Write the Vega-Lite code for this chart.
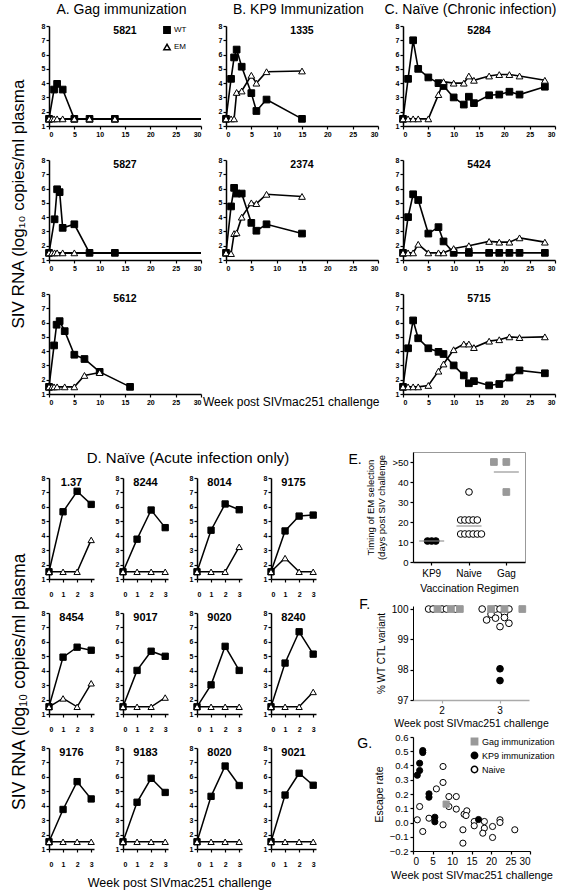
{
"$schema":"https://vega.github.io/schema/vega-lite/v6.json",
"padding":{"left":10,"top":3,"right":0,"bottom":0},
"config":{
 "font":"Liberation Sans",
 "view":{"stroke":null},
 "axis":{"grid":false,"domainColor":"black","domainWidth":1.5,"tickColor":"black","tickWidth":1.2,"tickSize":3,"labelFontSize":7,"labelFontWeight":"bold","labelColor":"black","labelPadding":1,"titleFontWeight":"normal","titleColor":"black"},
 "title":{"fontSize":10.5,"fontWeight":"bold","color":"black","anchor":"middle","offset":-14},
 "legend":{"labelColor":"black","padding":0}
},
"datasets":{
 "top":[
  {"m":"5821","s":"WT","w":0,"v":1.5},{"m":"5821","s":"WT","w":1,"v":3.55},{"m":"5821","s":"WT","w":1.6,"v":3.95},{"m":"5821","s":"WT","w":2.7,"v":3.55},{"m":"5821","s":"WT","w":5,"v":1.5},{"m":"5821","s":"WT","w":8,"v":1.5},{"m":"5821","s":"WT","w":13,"v":1.5},
  {"m":"5821","s":"EM","w":0,"v":1.5},{"m":"5821","s":"EM","w":0.6,"v":1.5},{"m":"5821","s":"EM","w":1,"v":1.5},{"m":"5821","s":"EM","w":1.6,"v":1.5},{"m":"5821","s":"EM","w":2.7,"v":1.5},{"m":"5821","s":"EM","w":5,"v":1.5},{"m":"5821","s":"EM","w":8,"v":1.5},{"m":"5821","s":"EM","w":13,"v":1.5},
  {"m":"5827","s":"WT","w":0,"v":1.5},{"m":"5827","s":"WT","w":1.1,"v":3.85},{"m":"5827","s":"WT","w":1.6,"v":5.95},{"m":"5827","s":"WT","w":2.1,"v":5.75},{"m":"5827","s":"WT","w":2.7,"v":3.25},{"m":"5827","s":"WT","w":5,"v":3.5},{"m":"5827","s":"WT","w":8,"v":1.5},{"m":"5827","s":"WT","w":13,"v":1.5},
  {"m":"5827","s":"EM","w":0,"v":1.5},{"m":"5827","s":"EM","w":0.6,"v":1.5},{"m":"5827","s":"EM","w":1.1,"v":1.5},{"m":"5827","s":"EM","w":1.6,"v":1.5},{"m":"5827","s":"EM","w":2.7,"v":1.5},{"m":"5827","s":"EM","w":5,"v":1.5},
  {"m":"5612","s":"WT","w":0,"v":1.5},{"m":"5612","s":"WT","w":1,"v":4.4},{"m":"5612","s":"WT","w":1.5,"v":5.85},{"m":"5612","s":"WT","w":2.1,"v":6.1},{"m":"5612","s":"WT","w":3.1,"v":5.4},{"m":"5612","s":"WT","w":5,"v":3.75},{"m":"5612","s":"WT","w":7,"v":3.45},{"m":"5612","s":"WT","w":10,"v":2.55},{"m":"5612","s":"WT","w":16,"v":1.5},
  {"m":"5612","s":"EM","w":0,"v":1.5},{"m":"5612","s":"EM","w":0.6,"v":1.5},{"m":"5612","s":"EM","w":1,"v":1.5},{"m":"5612","s":"EM","w":1.6,"v":1.5},{"m":"5612","s":"EM","w":3.1,"v":1.5},{"m":"5612","s":"EM","w":5,"v":1.5},{"m":"5612","s":"EM","w":7,"v":2.3},{"m":"5612","s":"EM","w":10,"v":2.5},
  {"m":"1335","s":"WT","w":0,"v":1.5},{"m":"1335","s":"WT","w":1,"v":4.3},{"m":"1335","s":"WT","w":1.6,"v":5.8},{"m":"1335","s":"WT","w":2.1,"v":6.35},{"m":"1335","s":"WT","w":3.1,"v":5.15},{"m":"1335","s":"WT","w":5,"v":3.3},{"m":"1335","s":"WT","w":6,"v":2.05},{"m":"1335","s":"WT","w":8,"v":2.85},{"m":"1335","s":"WT","w":15,"v":1.5},
  {"m":"1335","s":"EM","w":0,"v":1.5},{"m":"1335","s":"EM","w":1,"v":1.5},{"m":"1335","s":"EM","w":1.6,"v":1.5},{"m":"1335","s":"EM","w":2.1,"v":3.35},{"m":"1335","s":"EM","w":3.1,"v":3.45},{"m":"1335","s":"EM","w":5,"v":4.55},{"m":"1335","s":"EM","w":6,"v":4.0},{"m":"1335","s":"EM","w":8,"v":4.8},{"m":"1335","s":"EM","w":15,"v":4.85},
  {"m":"2374","s":"WT","w":0,"v":1.5},{"m":"2374","s":"WT","w":1,"v":4.75},{"m":"2374","s":"WT","w":1.6,"v":6.05},{"m":"2374","s":"WT","w":2.1,"v":5.65},{"m":"2374","s":"WT","w":3.1,"v":5.65},{"m":"2374","s":"WT","w":5,"v":3.6},{"m":"2374","s":"WT","w":6,"v":3.05},{"m":"2374","s":"WT","w":8,"v":3.5},{"m":"2374","s":"WT","w":15,"v":2.85},
  {"m":"2374","s":"EM","w":0,"v":1.5},{"m":"2374","s":"EM","w":1,"v":1.45},{"m":"2374","s":"EM","w":1.6,"v":2.85},{"m":"2374","s":"EM","w":2.1,"v":2.9},{"m":"2374","s":"EM","w":3.1,"v":4.0},{"m":"2374","s":"EM","w":5,"v":5.0},{"m":"2374","s":"EM","w":6,"v":4.95},{"m":"2374","s":"EM","w":8,"v":5.6},{"m":"2374","s":"EM","w":15,"v":5.45},
  {"m":"5284","s":"WT","w":0,"v":1.5},{"m":"5284","s":"WT","w":1,"v":4.3},{"m":"5284","s":"WT","w":2,"v":7.0},{"m":"5284","s":"WT","w":3,"v":5.0},{"m":"5284","s":"WT","w":5,"v":4.4},{"m":"5284","s":"WT","w":7,"v":4.0},{"m":"5284","s":"WT","w":8,"v":3.8},{"m":"5284","s":"WT","w":10,"v":3.0},{"m":"5284","s":"WT","w":12,"v":2.5},{"m":"5284","s":"WT","w":13,"v":3.05},{"m":"5284","s":"WT","w":14,"v":2.6},{"m":"5284","s":"WT","w":17,"v":3.15},{"m":"5284","s":"WT","w":19,"v":3.2},{"m":"5284","s":"WT","w":21,"v":3.4},{"m":"5284","s":"WT","w":23,"v":3.2},{"m":"5284","s":"WT","w":28,"v":3.75},
  {"m":"5284","s":"EM","w":0,"v":1.5},{"m":"5284","s":"EM","w":1,"v":1.5},{"m":"5284","s":"EM","w":2,"v":1.5},{"m":"5284","s":"EM","w":3,"v":1.5},{"m":"5284","s":"EM","w":5,"v":1.5},{"m":"5284","s":"EM","w":7,"v":3.2},{"m":"5284","s":"EM","w":8,"v":4.1},{"m":"5284","s":"EM","w":10,"v":4.0},{"m":"5284","s":"EM","w":12,"v":4.0},{"m":"5284","s":"EM","w":13,"v":4.5},{"m":"5284","s":"EM","w":14,"v":4.2},{"m":"5284","s":"EM","w":17,"v":4.5},{"m":"5284","s":"EM","w":19,"v":4.6},{"m":"5284","s":"EM","w":21,"v":4.6},{"m":"5284","s":"EM","w":23,"v":4.5},{"m":"5284","s":"EM","w":28,"v":4.2},
  {"m":"5424","s":"WT","w":0,"v":1.5},{"m":"5424","s":"WT","w":1,"v":4.0},{"m":"5424","s":"WT","w":2,"v":5.6},{"m":"5424","s":"WT","w":3,"v":5.2},{"m":"5424","s":"WT","w":5,"v":2.85},{"m":"5424","s":"WT","w":7,"v":3.3},{"m":"5424","s":"WT","w":8,"v":2.3},{"m":"5424","s":"WT","w":10,"v":1.5},{"m":"5424","s":"WT","w":13,"v":1.5},{"m":"5424","s":"WT","w":17,"v":1.5},{"m":"5424","s":"WT","w":19,"v":1.5},{"m":"5424","s":"WT","w":21,"v":1.5},{"m":"5424","s":"WT","w":23,"v":1.5},{"m":"5424","s":"WT","w":28,"v":1.5},
  {"m":"5424","s":"EM","w":0,"v":1.5},{"m":"5424","s":"EM","w":1,"v":1.5},{"m":"5424","s":"EM","w":2,"v":1.5},{"m":"5424","s":"EM","w":3,"v":2.1},{"m":"5424","s":"EM","w":5,"v":1.5},{"m":"5424","s":"EM","w":7,"v":1.5},{"m":"5424","s":"EM","w":8,"v":1.5},{"m":"5424","s":"EM","w":10,"v":1.8},{"m":"5424","s":"EM","w":13,"v":2.0},{"m":"5424","s":"EM","w":17,"v":2.3},{"m":"5424","s":"EM","w":19,"v":2.25},{"m":"5424","s":"EM","w":21,"v":2.25},{"m":"5424","s":"EM","w":23,"v":2.55},{"m":"5424","s":"EM","w":28,"v":2.25},
  {"m":"5715","s":"WT","w":0,"v":1.5},{"m":"5715","s":"WT","w":1,"v":4.2},{"m":"5715","s":"WT","w":2,"v":6.15},{"m":"5715","s":"WT","w":3,"v":4.9},{"m":"5715","s":"WT","w":5,"v":4.2},{"m":"5715","s":"WT","w":7,"v":3.95},{"m":"5715","s":"WT","w":8,"v":3.8},{"m":"5715","s":"WT","w":10,"v":3.0},{"m":"5715","s":"WT","w":12,"v":2.3},{"m":"5715","s":"WT","w":13,"v":1.75},{"m":"5715","s":"WT","w":14,"v":1.9},{"m":"5715","s":"WT","w":17,"v":1.6},{"m":"5715","s":"WT","w":19,"v":1.7},{"m":"5715","s":"WT","w":21,"v":2.15},{"m":"5715","s":"WT","w":23,"v":2.65},{"m":"5715","s":"WT","w":28,"v":2.45},
  {"m":"5715","s":"EM","w":0,"v":1.5},{"m":"5715","s":"EM","w":1,"v":1.5},{"m":"5715","s":"EM","w":2,"v":1.5},{"m":"5715","s":"EM","w":3,"v":1.5},{"m":"5715","s":"EM","w":5,"v":1.6},{"m":"5715","s":"EM","w":7,"v":2.6},{"m":"5715","s":"EM","w":8,"v":3.1},{"m":"5715","s":"EM","w":10,"v":4.1},{"m":"5715","s":"EM","w":12,"v":4.5},{"m":"5715","s":"EM","w":13,"v":4.5},{"m":"5715","s":"EM","w":14,"v":4.25},{"m":"5715","s":"EM","w":17,"v":4.7},{"m":"5715","s":"EM","w":19,"v":4.8},{"m":"5715","s":"EM","w":21,"v":5.0},{"m":"5715","s":"EM","w":23,"v":4.95},{"m":"5715","s":"EM","w":28,"v":5.0}
 ],
 "acute":[
  {"m":"1.37","s":"WT","w":0,"v":1.5},{"m":"1.37","s":"WT","w":1,"v":5.66},{"m":"1.37","s":"WT","w":2,"v":7.08},{"m":"1.37","s":"WT","w":3,"v":6.17},
  {"m":"1.37","s":"EM","w":0,"v":1.5},{"m":"1.37","s":"EM","w":1,"v":1.5},{"m":"1.37","s":"EM","w":2,"v":1.5},{"m":"1.37","s":"EM","w":3,"v":3.71},
  {"m":"8244","s":"WT","w":0,"v":1.5},{"m":"8244","s":"WT","w":1,"v":3.76},{"m":"8244","s":"WT","w":2,"v":5.78},{"m":"8244","s":"WT","w":3,"v":4.56},
  {"m":"8244","s":"EM","w":0,"v":1.5},{"m":"8244","s":"EM","w":1,"v":1.5},{"m":"8244","s":"EM","w":2,"v":1.5},{"m":"8244","s":"EM","w":3,"v":1.5},
  {"m":"8014","s":"WT","w":0,"v":1.5},{"m":"8014","s":"WT","w":1,"v":4.38},{"m":"8014","s":"WT","w":2,"v":6.2},{"m":"8014","s":"WT","w":3,"v":5.8},
  {"m":"8014","s":"EM","w":0,"v":1.5},{"m":"8014","s":"EM","w":1,"v":1.5},{"m":"8014","s":"EM","w":2,"v":1.5},{"m":"8014","s":"EM","w":3,"v":3.23},
  {"m":"9175","s":"WT","w":0,"v":1.5},{"m":"9175","s":"WT","w":1,"v":4.33},{"m":"9175","s":"WT","w":2,"v":5.36},{"m":"9175","s":"WT","w":3,"v":5.43},
  {"m":"9175","s":"EM","w":0,"v":1.5},{"m":"9175","s":"EM","w":1,"v":2.45},{"m":"9175","s":"EM","w":2,"v":1.5},{"m":"9175","s":"EM","w":3,"v":1.5},
  {"m":"8454","s":"WT","w":0,"v":1.5},{"m":"8454","s":"WT","w":1,"v":4.94},{"m":"8454","s":"WT","w":2,"v":5.63},{"m":"8454","s":"WT","w":3,"v":5.42},
  {"m":"8454","s":"EM","w":0,"v":1.5},{"m":"8454","s":"EM","w":1,"v":2.08},{"m":"8454","s":"EM","w":2,"v":1.5},{"m":"8454","s":"EM","w":3,"v":3.13},
  {"m":"9017","s":"WT","w":0,"v":1.5},{"m":"9017","s":"WT","w":1,"v":4.02},{"m":"9017","s":"WT","w":2,"v":5.35},{"m":"9017","s":"WT","w":3,"v":5.0},
  {"m":"9017","s":"EM","w":0,"v":1.5},{"m":"9017","s":"EM","w":1,"v":1.5},{"m":"9017","s":"EM","w":2,"v":1.5},{"m":"9017","s":"EM","w":3,"v":2.14},
  {"m":"9020","s":"WT","w":0,"v":1.5},{"m":"9020","s":"WT","w":1,"v":3.02},{"m":"9020","s":"WT","w":2,"v":5.69},{"m":"9020","s":"WT","w":3,"v":4.02},
  {"m":"9020","s":"EM","w":0,"v":1.5},{"m":"9020","s":"EM","w":1,"v":1.5},{"m":"9020","s":"EM","w":2,"v":1.5},{"m":"9020","s":"EM","w":3,"v":1.5},
  {"m":"8240","s":"WT","w":0,"v":1.5},{"m":"8240","s":"WT","w":1,"v":4.53},{"m":"8240","s":"WT","w":2,"v":6.7},{"m":"8240","s":"WT","w":3,"v":5.15},
  {"m":"8240","s":"EM","w":0,"v":1.5},{"m":"8240","s":"EM","w":1,"v":1.5},{"m":"8240","s":"EM","w":2,"v":1.5},{"m":"8240","s":"EM","w":3,"v":2.53},
  {"m":"9176","s":"WT","w":0,"v":1.5},{"m":"9176","s":"WT","w":1,"v":3.74},{"m":"9176","s":"WT","w":2,"v":5.67},{"m":"9176","s":"WT","w":3,"v":4.47},
  {"m":"9176","s":"EM","w":0,"v":1.5},{"m":"9176","s":"EM","w":1,"v":1.5},{"m":"9176","s":"EM","w":2,"v":1.5},{"m":"9176","s":"EM","w":3,"v":1.5},
  {"m":"9183","s":"WT","w":0,"v":1.5},{"m":"9183","s":"WT","w":1,"v":4.24},{"m":"9183","s":"WT","w":2,"v":5.9},{"m":"9183","s":"WT","w":3,"v":4.92},
  {"m":"9183","s":"EM","w":0,"v":1.5},{"m":"9183","s":"EM","w":1,"v":1.5},{"m":"9183","s":"EM","w":2,"v":1.5},{"m":"9183","s":"EM","w":3,"v":1.5},
  {"m":"8020","s":"WT","w":0,"v":1.5},{"m":"8020","s":"WT","w":1,"v":4.65},{"m":"8020","s":"WT","w":2,"v":6.75},{"m":"8020","s":"WT","w":3,"v":5.4},
  {"m":"8020","s":"EM","w":0,"v":1.5},{"m":"8020","s":"EM","w":1,"v":1.5},{"m":"8020","s":"EM","w":2,"v":1.5},{"m":"8020","s":"EM","w":3,"v":1.5},
  {"m":"9021","s":"WT","w":0,"v":1.5},{"m":"9021","s":"WT","w":1,"v":4.74},{"m":"9021","s":"WT","w":2,"v":6.25},{"m":"9021","s":"WT","w":3,"v":5.42},
  {"m":"9021","s":"EM","w":0,"v":1.5},{"m":"9021","s":"EM","w":1,"v":1.5},{"m":"9021","s":"EM","w":2,"v":1.5},{"m":"9021","s":"EM","w":3,"v":1.5}
 ],
 "timing":[
  {"r":"KP9","d":10.5,"k":4},{"r":"KP9","d":10.5,"k":5},{"r":"KP9","d":10.5,"k":6},
  {"r":"Naive","d":35,"k":5},{"r":"Naive","d":21,"k":3},{"r":"Naive","d":21,"k":4},{"r":"Naive","d":21,"k":5},{"r":"Naive","d":21,"k":6},{"r":"Naive","d":21,"k":7},
  {"r":"Naive","d":14,"k":3},{"r":"Naive","d":14,"k":4},{"r":"Naive","d":14,"k":5},{"r":"Naive","d":14,"k":6},{"r":"Naive","d":14,"k":7},{"r":"Naive","d":14,"k":8},
  {"r":"Gag","d":50,"k":2},{"r":"Gag","d":50,"k":5},{"r":"Gag","d":35,"k":5}
 ],
 "medians":[{"r":"KP9","d":10.5},{"r":"Naive","d":18},{"r":"Gag","d":45}],
 "pct":[
  {"w":2,"p":100,"g":"Naive","k":4},{"w":2,"p":100,"g":"Naive","k":5},{"w":2,"p":100,"g":"Naive","k":7},{"w":2,"p":100,"g":"Naive","k":8},{"w":2,"p":100,"g":"Naive","k":10},
  {"w":2,"p":100,"g":"Gag","k":6},{"w":2,"p":100,"g":"Gag","k":9},{"w":2,"p":100,"g":"Gag","k":11},
  {"w":3,"p":100,"g":"Naive","k":3},{"w":3,"p":100,"g":"Naive","k":6},{"w":3,"p":100,"g":"Naive","k":7},{"w":3,"p":100,"g":"Naive","k":9},
  {"w":3,"p":99.64,"g":"Naive","k":4},{"w":3,"p":99.83,"g":"Naive","k":5},{"w":3,"p":99.7,"g":"Naive","k":6},{"w":3,"p":99.86,"g":"Naive","k":8},{"w":3,"p":99.72,"g":"Naive","k":8},{"w":3,"p":99.42,"g":"Naive","k":7},{"w":3,"p":99.53,"g":"Naive","k":9},
  {"w":3,"p":100,"g":"Gag","k":5},{"w":3,"p":100,"g":"Gag","k":8},{"w":3,"p":100,"g":"Gag","k":12},
  {"w":3,"p":98.03,"g":"KP9","k":7},{"w":3,"p":97.64,"g":"KP9","k":7}
 ],
 "escape":[
  {"g":"Naive","w":7.7,"e":0.393},{"g":"Naive","w":7.7,"e":0.281},{"g":"Naive","w":6.0,"e":0.236},{"g":"Naive","w":9.2,"e":0.182},{"g":"Naive","w":11.1,"e":0.182},{"g":"Naive","w":9.2,"e":0.112},{"g":"Naive","w":11.1,"e":0.094},{"g":"Naive","w":1.7,"e":0.112},{"g":"Naive","w":1.1,"e":0.019},{"g":"Naive","w":2.5,"e":-0.063},{"g":"Naive","w":4.1,"e":0.03},{"g":"Naive","w":7.7,"e":-0.016},{"g":"Naive","w":13.1,"e":0.058},{"g":"Naive","w":13.8,"e":0.082},{"g":"Naive","w":13.6,"e":0.049},{"g":"Naive","w":12.8,"e":-0.051},{"g":"Naive","w":12.8,"e":-0.145},{"g":"Naive","w":15.7,"e":0.007},{"g":"Naive","w":15.7,"e":-0.023},{"g":"Naive","w":18.3,"e":0.007},{"g":"Naive","w":18.3,"e":-0.04},{"g":"Naive","w":17.9,"e":-0.075},{"g":"Naive","w":20.4,"e":-0.028},{"g":"Naive","w":20.4,"e":-0.105},{"g":"Naive","w":22.3,"e":0.019},{"g":"Naive","w":22.3,"e":0.0},{"g":"Naive","w":26.1,"e":-0.051},
  {"g":"Gag immunization","w":8.5,"e":0.129},
  {"g":"KP9 immunization","w":1.1,"e":0.332},{"g":"KP9 immunization","w":1.7,"e":0.365},{"g":"KP9 immunization","w":1.7,"e":0.416},{"g":"KP9 immunization","w":2.5,"e":0.491},{"g":"KP9 immunization","w":2.5,"e":0.505},{"g":"KP9 immunization","w":4.1,"e":0.201},{"g":"KP9 immunization","w":4.1,"e":0.178},{"g":"KP9 immunization","w":5.6,"e":0.037},{"g":"KP9 immunization","w":5.6,"e":0.005},{"g":"KP9 immunization","w":16.8,"e":0.021}
 ]
},
"resolve":{"scale":{"x":"independent","y":"independent","xOffset":"independent","shape":"independent","fill":"independent","stroke":"independent"},"legend":{"shape":"independent","fill":"independent","stroke":"independent"}},
"spacing":43,
"vconcat":[
 {
  "title":{"text":"Week post SIVmac251 challenge","orient":"bottom","fontSize":12,"fontWeight":"normal","offset":-8,"anchor":"middle","dx":8},
  "resolve":{"scale":{"x":"independent","y":"independent","xOffset":"independent","shape":"independent","fill":"independent","stroke":"independent"},"legend":{"shape":"independent","fill":"independent","stroke":"independent"}},
  "spacing":16,
  "hconcat":[
   {
    "title":{"text":"SIV RNA (log₁₀ copies/ml plasma","orient":"left","fontSize":17,"fontWeight":"normal","anchor":"middle","offset":13},
    "resolve":{"scale":{"x":"independent","y":"independent","xOffset":"independent","shape":"independent","fill":"independent","stroke":"independent"},"legend":{"shape":"independent","fill":"independent","stroke":"independent"}},
    "vconcat":[
     {
      "title":{"text":"A. Gag immunization","fontSize":14,"fontWeight":"normal","offset":5,"anchor":"middle"},
      "resolve":{"scale":{"x":"independent","y":"independent","xOffset":"independent","shape":"independent","fill":"independent","stroke":"independent"},"legend":{"shape":"independent","fill":"independent","stroke":"independent"}},
      "spacing":19,
      "vconcat":[
       {"width":152,"height":100,"title":{"text":"5821"},"data":{"name":"top"},"transform":[{"filter":"datum.m=='5821'"}],
        "encoding":{"x":{"field":"w","type":"quantitative","scale":{"domain":[0,30],"nice":false},"axis":{"values":[0,5,10,15,20,25,30],"title":null}},"y":{"field":"v","type":"quantitative","scale":{"domain":[1,8],"nice":false},"axis":{"values":[1,2,3,4,5,6,7,8],"title":null}}},
        "layer":[
         {"mark":{"type":"rule","color":"black","strokeWidth":1.6},"encoding":{"x":{"datum":0},"x2":{"datum":30},"y":{"datum":1.5}}},
         {"mark":{"type":"line","color":"black","strokeWidth":1.6},"encoding":{"detail":{"field":"s"}}},
         {"mark":{"type":"point","filled":true,"opacity":1,"strokeWidth":1,"size":45},"encoding":{
           "shape":{"field":"s","type":"nominal","scale":{"domain":["WT","EM"],"range":["square","triangle-up"]},"legend":{"title":null,"orient":"right","offset":-38,"labelFontSize":8,"labelFontWeight":"normal","symbolSize":40,"rowPadding":4,"labelOffset":3}},
           "fill":{"field":"s","type":"nominal","scale":{"domain":["WT","EM"],"range":["black","white"]},"legend":{"title":null,"orient":"right","offset":-38,"labelFontSize":8,"labelFontWeight":"normal","symbolSize":40,"rowPadding":4,"labelOffset":3}},
           "stroke":{"field":"s","type":"nominal","scale":{"domain":["WT","EM"],"range":["black","black"]},"legend":{"title":null,"orient":"right","offset":-38,"labelFontSize":8,"labelFontWeight":"normal","symbolSize":40,"rowPadding":4,"labelOffset":3}}}}
        ]},
       {"width":152,"height":100,"title":{"text":"5827"},"data":{"name":"top"},"transform":[{"filter":"datum.m=='5827'"}],
        "encoding":{"x":{"field":"w","type":"quantitative","scale":{"domain":[0,30],"nice":false},"axis":{"values":[0,5,10,15,20,25,30],"title":null}},"y":{"field":"v","type":"quantitative","scale":{"domain":[1,8],"nice":false},"axis":{"values":[1,2,3,4,5,6,7,8],"title":null}}},
        "layer":[
         {"mark":{"type":"rule","color":"black","strokeWidth":1.6},"encoding":{"x":{"datum":0},"x2":{"datum":30},"y":{"datum":1.5}}},
         {"mark":{"type":"line","color":"black","strokeWidth":1.6},"encoding":{"detail":{"field":"s"}}},
         {"mark":{"type":"point","filled":true,"opacity":1,"stroke":"black","strokeWidth":1,"size":45},"encoding":{"shape":{"field":"s","type":"nominal","scale":{"domain":["WT","EM"],"range":["square","triangle-up"]},"legend":null},"fill":{"field":"s","type":"nominal","scale":{"domain":["WT","EM"],"range":["black","white"]},"legend":null}}}
        ]},
       {"width":152,"height":100,"title":{"text":"5612"},"data":{"name":"top"},"transform":[{"filter":"datum.m=='5612'"}],
        "encoding":{"x":{"field":"w","type":"quantitative","scale":{"domain":[0,30],"nice":false},"axis":{"values":[0,5,10,15,20,25,30],"title":null}},"y":{"field":"v","type":"quantitative","scale":{"domain":[1,8],"nice":false},"axis":{"values":[1,2,3,4,5,6,7,8],"title":null}}},
        "layer":[
         {"mark":{"type":"line","color":"black","strokeWidth":1.6},"encoding":{"detail":{"field":"s"}}},
         {"mark":{"type":"point","filled":true,"opacity":1,"stroke":"black","strokeWidth":1,"size":45},"encoding":{"shape":{"field":"s","type":"nominal","scale":{"domain":["WT","EM"],"range":["square","triangle-up"]},"legend":null},"fill":{"field":"s","type":"nominal","scale":{"domain":["WT","EM"],"range":["black","white"]},"legend":null}}}
        ]}
      ]
     }
    ]
   },
   {
    "resolve":{"scale":{"x":"independent","y":"independent","xOffset":"independent","shape":"independent","fill":"independent","stroke":"independent"},"legend":{"shape":"independent","fill":"independent","stroke":"independent"}},
    "spacing":5,
    "hconcat":[
     {
      "title":{"text":"B. KP9 Immunization","fontSize":14,"fontWeight":"normal","offset":5,"anchor":"middle"},
      "resolve":{"scale":{"x":"independent","y":"independent","xOffset":"independent","shape":"independent","fill":"independent","stroke":"independent"},"legend":{"shape":"independent","fill":"independent","stroke":"independent"}},
      "spacing":19,
      "vconcat":[
       {"width":152,"height":100,"title":{"text":"1335"},"data":{"name":"top"},"transform":[{"filter":"datum.m=='1335'"}],
        "encoding":{"x":{"field":"w","type":"quantitative","scale":{"domain":[0,30],"nice":false},"axis":{"values":[0,5,10,15,20,25,30],"title":null}},"y":{"field":"v","type":"quantitative","scale":{"domain":[1,8],"nice":false},"axis":{"values":[1,2,3,4,5,6,7,8],"title":null}}},
        "layer":[
         {"mark":{"type":"line","color":"black","strokeWidth":1.6},"encoding":{"detail":{"field":"s"}}},
         {"mark":{"type":"point","filled":true,"opacity":1,"stroke":"black","strokeWidth":1,"size":45},"encoding":{"shape":{"field":"s","type":"nominal","scale":{"domain":["WT","EM"],"range":["square","triangle-up"]},"legend":null},"fill":{"field":"s","type":"nominal","scale":{"domain":["WT","EM"],"range":["black","white"]},"legend":null}}}
        ]},
       {"width":152,"height":100,"title":{"text":"2374"},"data":{"name":"top"},"transform":[{"filter":"datum.m=='2374'"}],
        "encoding":{"x":{"field":"w","type":"quantitative","scale":{"domain":[0,30],"nice":false},"axis":{"values":[0,5,10,15,20,25,30],"title":null}},"y":{"field":"v","type":"quantitative","scale":{"domain":[1,8],"nice":false},"axis":{"values":[1,2,3,4,5,6,7,8],"title":null}}},
        "layer":[
         {"mark":{"type":"line","color":"black","strokeWidth":1.6},"encoding":{"detail":{"field":"s"}}},
         {"mark":{"type":"point","filled":true,"opacity":1,"stroke":"black","strokeWidth":1,"size":45},"encoding":{"shape":{"field":"s","type":"nominal","scale":{"domain":["WT","EM"],"range":["square","triangle-up"]},"legend":null},"fill":{"field":"s","type":"nominal","scale":{"domain":["WT","EM"],"range":["black","white"]},"legend":null}}}
        ]}
      ]
     },
     {
      "title":{"text":"C. Naïve (Chronic infection)","fontSize":14,"fontWeight":"normal","offset":5,"anchor":"middle","dx":-5},
      "resolve":{"scale":{"x":"independent","y":"independent","xOffset":"independent","shape":"independent","fill":"independent","stroke":"independent"},"legend":{"shape":"independent","fill":"independent","stroke":"independent"}},
      "spacing":19,
      "vconcat":[
       {"width":152,"height":100,"title":{"text":"5284"},"data":{"name":"top"},"transform":[{"filter":"datum.m=='5284'"}],
        "encoding":{"x":{"field":"w","type":"quantitative","scale":{"domain":[0,30],"nice":false},"axis":{"values":[0,5,10,15,20,25,30],"title":null}},"y":{"field":"v","type":"quantitative","scale":{"domain":[1,8],"nice":false},"axis":{"values":[1,2,3,4,5,6,7,8],"title":null}}},
        "layer":[
         {"mark":{"type":"line","color":"black","strokeWidth":1.6},"encoding":{"detail":{"field":"s"}}},
         {"mark":{"type":"point","filled":true,"opacity":1,"stroke":"black","strokeWidth":1,"size":45},"encoding":{"shape":{"field":"s","type":"nominal","scale":{"domain":["WT","EM"],"range":["square","triangle-up"]},"legend":null},"fill":{"field":"s","type":"nominal","scale":{"domain":["WT","EM"],"range":["black","white"]},"legend":null}}}
        ]},
       {"width":152,"height":100,"title":{"text":"5424"},"data":{"name":"top"},"transform":[{"filter":"datum.m=='5424'"}],
        "encoding":{"x":{"field":"w","type":"quantitative","scale":{"domain":[0,30],"nice":false},"axis":{"values":[0,5,10,15,20,25,30],"title":null}},"y":{"field":"v","type":"quantitative","scale":{"domain":[1,8],"nice":false},"axis":{"values":[1,2,3,4,5,6,7,8],"title":null}}},
        "layer":[
         {"mark":{"type":"line","color":"black","strokeWidth":1.6},"encoding":{"detail":{"field":"s"}}},
         {"mark":{"type":"point","filled":true,"opacity":1,"stroke":"black","strokeWidth":1,"size":45},"encoding":{"shape":{"field":"s","type":"nominal","scale":{"domain":["WT","EM"],"range":["square","triangle-up"]},"legend":null},"fill":{"field":"s","type":"nominal","scale":{"domain":["WT","EM"],"range":["black","white"]},"legend":null}}}
        ]},
       {"width":152,"height":100,"title":{"text":"5715"},"data":{"name":"top"},"transform":[{"filter":"datum.m=='5715'"}],
        "encoding":{"x":{"field":"w","type":"quantitative","scale":{"domain":[0,30],"nice":false},"axis":{"values":[0,5,10,15,20,25,30],"title":null}},"y":{"field":"v","type":"quantitative","scale":{"domain":[1,8],"nice":false},"axis":{"values":[1,2,3,4,5,6,7,8],"title":null}}},
        "layer":[
         {"mark":{"type":"line","color":"black","strokeWidth":1.6},"encoding":{"detail":{"field":"s"}}},
         {"mark":{"type":"point","filled":true,"opacity":1,"stroke":"black","strokeWidth":1,"size":45},"encoding":{"shape":{"field":"s","type":"nominal","scale":{"domain":["WT","EM"],"range":["square","triangle-up"]},"legend":null},"fill":{"field":"s","type":"nominal","scale":{"domain":["WT","EM"],"range":["black","white"]},"legend":null}}}
        ]}
      ]
     }
    ]
   }
  ]
 },
 {
  "resolve":{"scale":{"x":"independent","y":"independent","xOffset":"independent","shape":"independent","fill":"independent","stroke":"independent"},"legend":{"shape":"independent","fill":"independent","stroke":"independent"}},
  "spacing":28,
  "hconcat":[
   {
    "resolve":{"scale":{"x":"independent","y":"independent","xOffset":"independent","shape":"independent","fill":"independent","stroke":"independent"},"legend":{"shape":"independent","fill":"independent","stroke":"independent"}},
    "spacing":8,
    "vconcat":[
     {"width":258,"height":1,"data":{"values":[{"a":1}]},"mark":{"type":"point","opacity":0,"size":1},
      "title":{"text":"D. Naïve (Acute infection only)","orient":"bottom","fontSize":15,"fontWeight":"normal","offset":-2,"anchor":"middle","dx":10}},
     {
      "title":{"text":"SIV RNA (log₁₀ copies/ml plasma","orient":"left","fontSize":17.5,"fontWeight":"normal","anchor":"middle","offset":13},
      "resolve":{"scale":{"x":"independent","y":"independent","xOffset":"independent","shape":"independent","fill":"independent","stroke":"independent"},"legend":{"shape":"independent","fill":"independent","stroke":"independent"}},
      "vconcat":[
       {
        "title":{"text":"Week post SIVmac251 challenge","orient":"bottom","fontSize":12.5,"fontWeight":"normal","offset":10,"anchor":"middle"},
        "resolve":{"scale":{"x":"independent","y":"independent","xOffset":"independent","shape":"independent","fill":"independent","stroke":"independent"},"legend":{"shape":"independent","fill":"independent","stroke":"independent"}},
        "columns":4,
        "align":"each",
        "spacing":{"row":12,"column":18},
        "concat":[
         {"width":45,"height":101,"title":{"text":"1.37","fontSize":11},"data":{"name":"acute"},"transform":[{"filter":"datum.m=='1.37'"}],
          "encoding":{"x":{"field":"w","type":"quantitative","scale":{"domain":[0,3.2],"nice":false},"axis":{"values":[0,1,2,3],"title":null,"labelPadding":8}},"y":{"field":"v","type":"quantitative","scale":{"domain":[1,8],"nice":false},"axis":{"values":[1,2,3,4,5,6,7,8],"title":null}}},
          "layer":[{"mark":{"type":"line","color":"black","strokeWidth":1.5},"encoding":{"detail":{"field":"s"}}},{"mark":{"type":"point","filled":true,"opacity":1,"stroke":"black","strokeWidth":1,"size":40},"encoding":{"shape":{"field":"s","type":"nominal","scale":{"domain":["WT","EM"],"range":["square","triangle-up"]},"legend":null},"fill":{"field":"s","type":"nominal","scale":{"domain":["WT","EM"],"range":["black","white"]},"legend":null}}}]},
         {"width":45,"height":101,"title":{"text":"8244","fontSize":11},"data":{"name":"acute"},"transform":[{"filter":"datum.m=='8244'"}],
          "encoding":{"x":{"field":"w","type":"quantitative","scale":{"domain":[0,3.2],"nice":false},"axis":{"values":[0,1,2,3],"title":null,"labelPadding":8}},"y":{"field":"v","type":"quantitative","scale":{"domain":[1,8],"nice":false},"axis":{"values":[1,2,3,4,5,6,7,8],"title":null}}},
          "layer":[{"mark":{"type":"line","color":"black","strokeWidth":1.5},"encoding":{"detail":{"field":"s"}}},{"mark":{"type":"point","filled":true,"opacity":1,"stroke":"black","strokeWidth":1,"size":40},"encoding":{"shape":{"field":"s","type":"nominal","scale":{"domain":["WT","EM"],"range":["square","triangle-up"]},"legend":null},"fill":{"field":"s","type":"nominal","scale":{"domain":["WT","EM"],"range":["black","white"]},"legend":null}}}]},
         {"width":45,"height":101,"title":{"text":"8014","fontSize":11},"data":{"name":"acute"},"transform":[{"filter":"datum.m=='8014'"}],
          "encoding":{"x":{"field":"w","type":"quantitative","scale":{"domain":[0,3.2],"nice":false},"axis":{"values":[0,1,2,3],"title":null,"labelPadding":8}},"y":{"field":"v","type":"quantitative","scale":{"domain":[1,8],"nice":false},"axis":{"values":[1,2,3,4,5,6,7,8],"title":null}}},
          "layer":[{"mark":{"type":"line","color":"black","strokeWidth":1.5},"encoding":{"detail":{"field":"s"}}},{"mark":{"type":"point","filled":true,"opacity":1,"stroke":"black","strokeWidth":1,"size":40},"encoding":{"shape":{"field":"s","type":"nominal","scale":{"domain":["WT","EM"],"range":["square","triangle-up"]},"legend":null},"fill":{"field":"s","type":"nominal","scale":{"domain":["WT","EM"],"range":["black","white"]},"legend":null}}}]},
         {"width":45,"height":101,"title":{"text":"9175","fontSize":11},"data":{"name":"acute"},"transform":[{"filter":"datum.m=='9175'"}],
          "encoding":{"x":{"field":"w","type":"quantitative","scale":{"domain":[0,3.2],"nice":false},"axis":{"values":[0,1,2,3],"title":null,"labelPadding":8}},"y":{"field":"v","type":"quantitative","scale":{"domain":[1,8],"nice":false},"axis":{"values":[1,2,3,4,5,6,7,8],"title":null}}},
          "layer":[{"mark":{"type":"line","color":"black","strokeWidth":1.5},"encoding":{"detail":{"field":"s"}}},{"mark":{"type":"point","filled":true,"opacity":1,"stroke":"black","strokeWidth":1,"size":40},"encoding":{"shape":{"field":"s","type":"nominal","scale":{"domain":["WT","EM"],"range":["square","triangle-up"]},"legend":null},"fill":{"field":"s","type":"nominal","scale":{"domain":["WT","EM"],"range":["black","white"]},"legend":null}}}]},
         {"width":45,"height":101,"title":{"text":"8454","fontSize":11},"data":{"name":"acute"},"transform":[{"filter":"datum.m=='8454'"}],
          "encoding":{"x":{"field":"w","type":"quantitative","scale":{"domain":[0,3.2],"nice":false},"axis":{"values":[0,1,2,3],"title":null,"labelPadding":8}},"y":{"field":"v","type":"quantitative","scale":{"domain":[1,8],"nice":false},"axis":{"values":[1,2,3,4,5,6,7,8],"title":null}}},
          "layer":[{"mark":{"type":"line","color":"black","strokeWidth":1.5},"encoding":{"detail":{"field":"s"}}},{"mark":{"type":"point","filled":true,"opacity":1,"stroke":"black","strokeWidth":1,"size":40},"encoding":{"shape":{"field":"s","type":"nominal","scale":{"domain":["WT","EM"],"range":["square","triangle-up"]},"legend":null},"fill":{"field":"s","type":"nominal","scale":{"domain":["WT","EM"],"range":["black","white"]},"legend":null}}}]},
         {"width":45,"height":101,"title":{"text":"9017","fontSize":11},"data":{"name":"acute"},"transform":[{"filter":"datum.m=='9017'"}],
          "encoding":{"x":{"field":"w","type":"quantitative","scale":{"domain":[0,3.2],"nice":false},"axis":{"values":[0,1,2,3],"title":null,"labelPadding":8}},"y":{"field":"v","type":"quantitative","scale":{"domain":[1,8],"nice":false},"axis":{"values":[1,2,3,4,5,6,7,8],"title":null}}},
          "layer":[{"mark":{"type":"line","color":"black","strokeWidth":1.5},"encoding":{"detail":{"field":"s"}}},{"mark":{"type":"point","filled":true,"opacity":1,"stroke":"black","strokeWidth":1,"size":40},"encoding":{"shape":{"field":"s","type":"nominal","scale":{"domain":["WT","EM"],"range":["square","triangle-up"]},"legend":null},"fill":{"field":"s","type":"nominal","scale":{"domain":["WT","EM"],"range":["black","white"]},"legend":null}}}]},
         {"width":45,"height":101,"title":{"text":"9020","fontSize":11},"data":{"name":"acute"},"transform":[{"filter":"datum.m=='9020'"}],
          "encoding":{"x":{"field":"w","type":"quantitative","scale":{"domain":[0,3.2],"nice":false},"axis":{"values":[0,1,2,3],"title":null,"labelPadding":8}},"y":{"field":"v","type":"quantitative","scale":{"domain":[1,8],"nice":false},"axis":{"values":[1,2,3,4,5,6,7,8],"title":null}}},
          "layer":[{"mark":{"type":"line","color":"black","strokeWidth":1.5},"encoding":{"detail":{"field":"s"}}},{"mark":{"type":"point","filled":true,"opacity":1,"stroke":"black","strokeWidth":1,"size":40},"encoding":{"shape":{"field":"s","type":"nominal","scale":{"domain":["WT","EM"],"range":["square","triangle-up"]},"legend":null},"fill":{"field":"s","type":"nominal","scale":{"domain":["WT","EM"],"range":["black","white"]},"legend":null}}}]},
         {"width":45,"height":101,"title":{"text":"8240","fontSize":11},"data":{"name":"acute"},"transform":[{"filter":"datum.m=='8240'"}],
          "encoding":{"x":{"field":"w","type":"quantitative","scale":{"domain":[0,3.2],"nice":false},"axis":{"values":[0,1,2,3],"title":null,"labelPadding":8}},"y":{"field":"v","type":"quantitative","scale":{"domain":[1,8],"nice":false},"axis":{"values":[1,2,3,4,5,6,7,8],"title":null}}},
          "layer":[{"mark":{"type":"line","color":"black","strokeWidth":1.5},"encoding":{"detail":{"field":"s"}}},{"mark":{"type":"point","filled":true,"opacity":1,"stroke":"black","strokeWidth":1,"size":40},"encoding":{"shape":{"field":"s","type":"nominal","scale":{"domain":["WT","EM"],"range":["square","triangle-up"]},"legend":null},"fill":{"field":"s","type":"nominal","scale":{"domain":["WT","EM"],"range":["black","white"]},"legend":null}}}]},
         {"width":45,"height":101,"title":{"text":"9176","fontSize":11},"data":{"name":"acute"},"transform":[{"filter":"datum.m=='9176'"}],
          "encoding":{"x":{"field":"w","type":"quantitative","scale":{"domain":[0,3.2],"nice":false},"axis":{"values":[0,1,2,3],"title":null,"labelPadding":8}},"y":{"field":"v","type":"quantitative","scale":{"domain":[1,8],"nice":false},"axis":{"values":[1,2,3,4,5,6,7,8],"title":null}}},
          "layer":[{"mark":{"type":"line","color":"black","strokeWidth":1.5},"encoding":{"detail":{"field":"s"}}},{"mark":{"type":"point","filled":true,"opacity":1,"stroke":"black","strokeWidth":1,"size":40},"encoding":{"shape":{"field":"s","type":"nominal","scale":{"domain":["WT","EM"],"range":["square","triangle-up"]},"legend":null},"fill":{"field":"s","type":"nominal","scale":{"domain":["WT","EM"],"range":["black","white"]},"legend":null}}}]},
         {"width":45,"height":101,"title":{"text":"9183","fontSize":11},"data":{"name":"acute"},"transform":[{"filter":"datum.m=='9183'"}],
          "encoding":{"x":{"field":"w","type":"quantitative","scale":{"domain":[0,3.2],"nice":false},"axis":{"values":[0,1,2,3],"title":null,"labelPadding":8}},"y":{"field":"v","type":"quantitative","scale":{"domain":[1,8],"nice":false},"axis":{"values":[1,2,3,4,5,6,7,8],"title":null}}},
          "layer":[{"mark":{"type":"line","color":"black","strokeWidth":1.5},"encoding":{"detail":{"field":"s"}}},{"mark":{"type":"point","filled":true,"opacity":1,"stroke":"black","strokeWidth":1,"size":40},"encoding":{"shape":{"field":"s","type":"nominal","scale":{"domain":["WT","EM"],"range":["square","triangle-up"]},"legend":null},"fill":{"field":"s","type":"nominal","scale":{"domain":["WT","EM"],"range":["black","white"]},"legend":null}}}]},
         {"width":45,"height":101,"title":{"text":"8020","fontSize":11},"data":{"name":"acute"},"transform":[{"filter":"datum.m=='8020'"}],
          "encoding":{"x":{"field":"w","type":"quantitative","scale":{"domain":[0,3.2],"nice":false},"axis":{"values":[0,1,2,3],"title":null,"labelPadding":8}},"y":{"field":"v","type":"quantitative","scale":{"domain":[1,8],"nice":false},"axis":{"values":[1,2,3,4,5,6,7,8],"title":null}}},
          "layer":[{"mark":{"type":"line","color":"black","strokeWidth":1.5},"encoding":{"detail":{"field":"s"}}},{"mark":{"type":"point","filled":true,"opacity":1,"stroke":"black","strokeWidth":1,"size":40},"encoding":{"shape":{"field":"s","type":"nominal","scale":{"domain":["WT","EM"],"range":["square","triangle-up"]},"legend":null},"fill":{"field":"s","type":"nominal","scale":{"domain":["WT","EM"],"range":["black","white"]},"legend":null}}}]},
         {"width":45,"height":101,"title":{"text":"9021","fontSize":11},"data":{"name":"acute"},"transform":[{"filter":"datum.m=='9021'"}],
          "encoding":{"x":{"field":"w","type":"quantitative","scale":{"domain":[0,3.2],"nice":false},"axis":{"values":[0,1,2,3],"title":null,"labelPadding":8}},"y":{"field":"v","type":"quantitative","scale":{"domain":[1,8],"nice":false},"axis":{"values":[1,2,3,4,5,6,7,8],"title":null}}},
          "layer":[{"mark":{"type":"line","color":"black","strokeWidth":1.5},"encoding":{"detail":{"field":"s"}}},{"mark":{"type":"point","filled":true,"opacity":1,"stroke":"black","strokeWidth":1,"size":40},"encoding":{"shape":{"field":"s","type":"nominal","scale":{"domain":["WT","EM"],"range":["square","triangle-up"]},"legend":null},"fill":{"field":"s","type":"nominal","scale":{"domain":["WT","EM"],"range":["black","white"]},"legend":null}}}]}
        ]
       }
      ]
     }
    ]
   },
   {
    "resolve":{"scale":{"x":"independent","y":"independent","xOffset":"independent","shape":"independent","fill":"independent","stroke":"independent"},"legend":{"shape":"independent","fill":"independent","stroke":"independent"}},
    "spacing":3,
    "vconcat":[
     {"width":112,"height":110,"view":{"stroke":"#999999"},
      "title":{"text":"E.","fontSize":14,"fontWeight":"normal","anchor":"start","frame":"bounds","offset":-15,"dx":-17},
      "encoding":{
       "x":{"field":"r","type":"nominal","scale":{"domain":["KP9","Naive","Gag"],"paddingInner":0,"paddingOuter":0},"axis":{"title":"Vaccination Regimen","labelAngle":0,"labelFontSize":10,"labelFontWeight":"normal","titleFontSize":10.5,"titlePadding":5,"labelPadding":3}},
       "y":{"field":"d","type":"quantitative","scale":{"domain":[0,55],"nice":false},"axis":{"values":[0,10,20,30,40,50],"labelExpr":"datum.value >= 50 ? '>50' : format(datum.value, 'd')","labelOverlap":false,"labelFontSize":9.5,"labelFontWeight":"normal","title":["Timing of EM selection","(days post SIV challenge"],"titleFontSize":9.5,"titlePadding":5,"labelPadding":2,"domainWidth":1.2}}
      },
      "layer":[
       {"data":{"name":"timing"},"mark":{"type":"point","filled":true,"opacity":1,"size":45,"strokeWidth":1},
        "encoding":{"xOffset":{"field":"k","type":"ordinal","scale":{"domain":[1,2,3,4,5,6,7,8,9]}},
         "shape":{"field":"r","type":"nominal","scale":{"domain":["Gag","KP9","Naive"],"range":["square","circle","circle"]},"legend":null},
         "fill":{"field":"r","type":"nominal","scale":{"domain":["Gag","KP9","Naive"],"range":["#999999","black","white"]},"legend":null},
         "stroke":{"field":"r","type":"nominal","scale":{"domain":["Gag","KP9","Naive"],"range":["#999999","black","black"]},"legend":null}}},
       {"data":{"name":"medians"},"mark":{"type":"tick","orient":"horizontal","color":"#888888","size":25,"thickness":1.5}}
      ]},
     {"width":116,"height":94,
      "title":{"text":"F.","fontSize":14,"fontWeight":"normal","anchor":"start","frame":"bounds","offset":-8,"dx":-17},
      "data":{"name":"pct"},
      "mark":{"type":"point","filled":true,"opacity":1,"size":45,"strokeWidth":1},
      "encoding":{
       "x":{"field":"w","type":"ordinal","scale":{"domain":[2,3],"paddingInner":0,"paddingOuter":0},"axis":{"title":"Week post SIVmac251 challenge","labelAngle":0,"labelFontSize":10,"labelFontWeight":"normal","titleFontSize":10.5,"domainColor":"#aaaaaa","tickColor":"#aaaaaa","titlePadding":3,"labelPadding":2}},
       "xOffset":{"field":"k","type":"ordinal","scale":{"domain":[1,2,3,4,5,6,7,8,9,10,11,12,13]}},
       "y":{"field":"p","type":"quantitative","scale":{"domain":[97,100.1],"nice":false},"axis":{"values":[97,98,99,100],"labelOverlap":false,"title":"% WT CTL variant","titleFontSize":10,"labelFontSize":10,"labelFontWeight":"normal","titlePadding":5,"labelPadding":2,"domainWidth":1}},
       "shape":{"field":"g","type":"nominal","scale":{"domain":["Gag","KP9","Naive"],"range":["square","circle","circle"]},"legend":null},
       "fill":{"field":"g","type":"nominal","scale":{"domain":["Gag","KP9","Naive"],"range":["#999999","black","white"]},"legend":null},
       "stroke":{"field":"g","type":"nominal","scale":{"domain":["Gag","KP9","Naive"],"range":["#999999","black","black"]},"legend":null}
      }},
     {"width":117,"height":114,
      "title":{"text":"G.","fontSize":14,"fontWeight":"normal","anchor":"start","frame":"bounds","offset":-19,"dx":-17},
      "data":{"name":"escape"},
      "mark":{"type":"point","filled":true,"opacity":1,"size":38,"strokeWidth":1},
      "encoding":{
       "x":{"field":"w","type":"quantitative","scale":{"domain":[0,30],"nice":false},"axis":{"values":[0,5,10,15,20,25,30],"labelOverlap":false,"title":"Week post SIVmac251 challenge","labelFontSize":10,"labelFontWeight":"normal","titleFontSize":11,"titlePadding":3,"labelPadding":2,"domainWidth":1.2}},
       "y":{"field":"e","type":"quantitative","scale":{"domain":[-0.2,0.6],"nice":false},"axis":{"values":[-0.2,-0.1,0,0.1,0.2,0.3,0.4,0.5,0.6],"labelOverlap":false,"format":".1f","title":"Escape rate","titleFontSize":10.5,"labelFontSize":9.5,"labelFontWeight":"normal","titlePadding":5,"labelPadding":2,"domainWidth":1.2}},
       "shape":{"field":"g","type":"nominal","scale":{"domain":["Gag immunization","KP9 immunization","Naive"],"range":["square","circle","circle"]},"legend":{"title":null,"orient":"right","offset":-60,"labelFontSize":9,"labelFontWeight":"normal","symbolSize":40,"rowPadding":1,"labelOffset":3}},
       "fill":{"field":"g","type":"nominal","scale":{"domain":["Gag immunization","KP9 immunization","Naive"],"range":["#999999","black","white"]},"legend":{"title":null,"orient":"right","offset":-60,"labelFontSize":9,"labelFontWeight":"normal","symbolSize":40,"rowPadding":1,"labelOffset":3}},
       "stroke":{"field":"g","type":"nominal","scale":{"domain":["Gag immunization","KP9 immunization","Naive"],"range":["#999999","black","black"]},"legend":{"title":null,"orient":"right","offset":-60,"labelFontSize":9,"labelFontWeight":"normal","symbolSize":40,"rowPadding":1,"labelOffset":3}}
      }}
    ]
   }
  ]
 }
]
}
